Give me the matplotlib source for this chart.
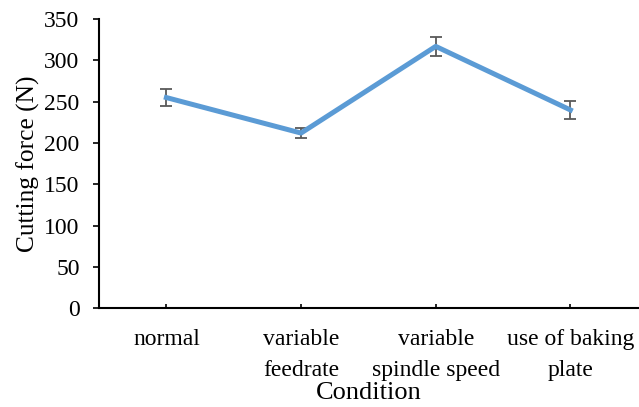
import matplotlib
matplotlib.use('Agg')
import matplotlib.pyplot as plt

conditions = ['normal', 'variable\nfeedrate', 'variable\nspindle speed', 'use of baking\nplate']
cutting_force = [255, 212, 317, 240]
force_err = [10.5, 6, 11.5, 10.5]

plt.rcParams['font.family'] = 'Liberation Serif'

fig = plt.figure(figsize=(6.39, 4.07), dpi=100)
ax = fig.add_axes([0.155, 0.243, 0.843, 0.71])

x = list(range(len(conditions)))
ax.errorbar(x, cutting_force, yerr=force_err, color='#5B9BD5', linewidth=3.6,
            ecolor='#595959', elinewidth=1.3, capsize=4.5, capthick=1.3, zorder=3)

ax.set_xlim(-0.5, len(conditions) - 0.5)
ax.set_ylim(0, 350)
ax.set_yticks(range(0, 351, 50))
ax.set_xticks(x)
ax.set_xticklabels(conditions, fontsize=17, linespacing=1.6)
ax.tick_params(axis='y', labelsize=17, direction='out', length=4, width=1.2, pad=10)
ax.tick_params(axis='x', direction='in', length=3, width=1.2, pad=15)

ax.spines['top'].set_visible(False)
ax.spines['right'].set_visible(False)
ax.spines['left'].set_linewidth(1.5)
ax.spines['bottom'].set_linewidth(1.5)

ax.set_xlabel('Condition', fontsize=19)
ax.xaxis.set_label_coords(0.5, -0.255)
ax.set_ylabel('Cutting force (N)', fontsize=18.3, labelpad=3)

fig.savefig('out.png', dpi=100)
